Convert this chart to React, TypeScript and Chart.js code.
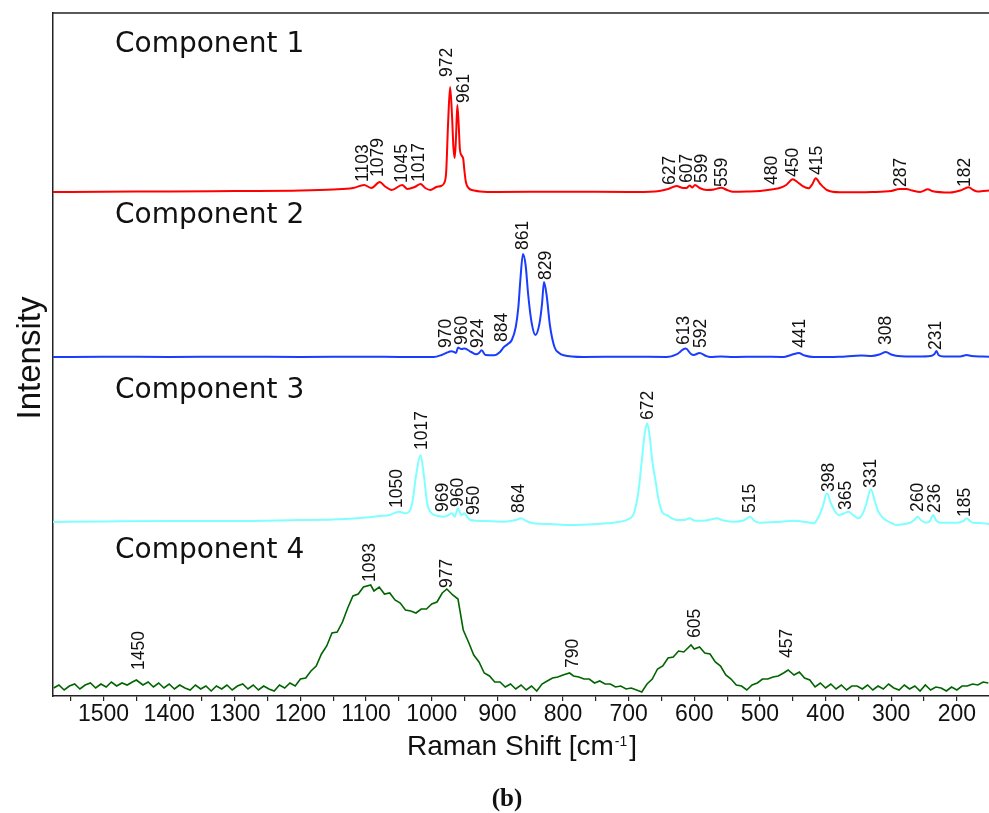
import { useEffect, useRef } from 'react';
import { Chart, registerables } from 'chart.js';

Chart.register(...registerables);

// Raman shift (cm-1) and intensity (a.u., above each trace's own baseline)
const SHIFT_C1 = [1577, 1500, 1400, 1300, 1200, 1150, 1120, 1103, 1092, 1079, 1072, 1061, 1045, 1037, 1026, 1017, 1010, 1002, 993, 986, 981, 978, 975, 972, 969, 967, 965, 963, 961, 959, 957, 954, 952, 950, 948, 944, 935, 926, 900, 800, 700, 660, 640, 627, 617, 612, 607, 603, 599, 592, 581, 570, 559, 550, 541, 520, 500, 480, 470, 460, 450, 443, 435, 426, 420, 415, 408, 398, 378, 330, 300, 287, 277, 268, 256, 244, 238, 210, 195, 182, 175, 168, 160, 151];
const INT_C1 = [0, 0.3, 0.5, 1, 1.5, 2.5, 4, 7, 4, 10, 6, 2, 7, 3, 5, 8, 4, 2, 5, 6, 9, 20, 70, 105, 75, 45, 34, 55, 87, 68, 42, 36, 33, 20, 10, 4, 1.5, 0.5, 0, 0.3, 0, 0.5, 3, 6, 4, 4, 6.5, 4.5, 7, 4, 2, 2.5, 4.3, 2, 0.3, 0.5, 1, 2.7, 4, 7, 12.7, 10, 6, 3.7, 8, 13.7, 8, 2, -0.3, 0, 1, 3, 3, 1.5, 0, 2.7, 1, -0.5, 1.5, 4.7, 2, 0.5, 1, 1.5];

const SHIFT_C2 = [1577, 1500, 1400, 1300, 1200, 1100, 1048, 997, 985, 978, 970, 966, 963, 960, 955, 950, 940, 932, 928, 924, 918, 905, 896, 890, 884, 878, 872, 868, 865, 861, 857, 853, 848, 842, 836, 832, 829, 825, 820, 813, 806, 799, 769, 700, 642, 627, 613, 605, 601, 592, 582, 576, 560, 540, 500, 464, 455, 448, 441, 432, 418, 380, 345, 330, 318, 308, 300, 290, 260, 240, 234, 231, 228, 220, 195, 185, 178, 160, 151];
const INT_C2 = [0, 0.3, 0, 0.3, 0, 0.3, 0, 0, 2, 4, 5.7, 5, 4, 9.5, 8, 8.5, 5, 2.7, 4, 6.7, 2, 1.7, 5, 10, 13, 17, 30, 50, 77, 103, 92, 62, 35, 22, 33, 53, 75, 62, 32, 10, 4, 1.7, 0, 0.3, 0, 2.7, 8.4, 3, 2, 4, 1, 0, 0.6, 0, 0.3, 0, 1.5, 3, 4, 1.5, 0, 0.3, 1.5, 1, 2.5, 5, 2.5, 1, 0.5, 1, 3, 6, 2, 0.5, 0.5, 2, 1, 0.5, 0.3];

const SHIFT_C3 = [1577, 1500, 1400, 1300, 1200, 1150, 1100, 1080, 1064, 1050, 1040, 1030, 1024, 1017, 1012, 1007, 1000, 990, 982, 976, 969, 965, 960, 955, 950, 946, 941, 920, 890, 872, 864, 856, 845, 820, 789, 750, 713, 700, 692, 685, 680, 676, 672, 668, 664, 659, 654, 648, 642, 635, 627, 615, 607, 600, 586, 575, 566, 555, 540, 525, 515, 508, 500, 475, 449, 430, 418, 410, 404, 398, 392, 386, 380, 372, 365, 358, 350, 343, 338, 331, 325, 320, 312, 300, 291, 280, 271, 265, 260, 254, 247, 241, 236, 232, 225, 200, 190, 185, 180, 175, 165, 151];
const INT_C3 = [-1, -0.5, 0, 0, 1, 1.5, 3.5, 5, 6, 9.3, 7.7, 17, 45, 66, 46, 18, 7.7, 5, 4.3, 5.5, 7.7, 4.3, 12.7, 6, 7.7, 4, 1, 0, -0.7, 1, 2.7, 0, -2.3, -3, -4, -3, -0.7, 2, 7.7, 30, 60, 85, 97.7, 85, 60, 40, 20, 8, 6, 3, 1, 1, 2.7, 0.5, 0.3, 1.5, 2.7, 0.5, -0.7, 0.5, 4.3, 0, -1.7, -1, 0.3, -1, -2.3, 5, 15, 27.7, 18, 10, 6, 7.5, 9.3, 6, 2.7, 8, 17, 31.7, 20, 10, 2.7, -2, -4, -3, -1.7, 1, 4.3, 0.5, -1.7, 0, 6, 1, -1.7, -1.7, 0, 2.7, 0, -1.7, -2, -3];

const SHIFT_C4 = [
  1576, 1568, 1560, 1552, 1544, 1536, 1528, 1520, 1512, 1504,
  1496, 1488, 1480, 1472, 1464, 1456, 1450, 1440, 1432, 1424,
  1416, 1408, 1400, 1392, 1384, 1376, 1368, 1360, 1352, 1344,
  1336, 1328, 1320, 1312, 1304, 1296, 1288, 1280, 1272, 1264,
  1256, 1248, 1240, 1232, 1224, 1216, 1208, 1200, 1192, 1184,
  1176, 1168, 1160, 1152, 1144, 1136, 1128, 1120, 1112, 1104,
  1093, 1088, 1080, 1072, 1064, 1056, 1048, 1040, 1032, 1024,
  1016, 1008, 1000, 992, 984, 977, 968, 960, 952, 944,
  936, 928, 920, 912, 904, 896, 888, 880, 872, 864,
  856, 848, 840, 832, 824, 816, 808, 800, 790, 784,
  776, 768, 760, 752, 744, 736, 728, 720, 712, 704,
  696, 688, 680, 672, 664, 656, 648, 640, 632, 624,
  616, 605, 600, 592, 584, 576, 568, 560, 552, 544,
  536, 528, 520, 512, 504, 496, 488, 480, 472, 464,
  457, 448, 440, 432, 424, 416, 408, 400, 392, 384,
  376, 368, 360, 352, 344, 336, 328, 320, 312, 304,
  296, 288, 280, 272, 264, 256, 248, 240, 232, 224,
  216, 208, 200, 192, 184, 176, 168, 160, 152,
];
const INT_C4 = [
  0, 3, -2, 2, 4, -1, 3, 5, 0, 4,
  1, 6, 2, 5, 3, 6, 8, 3, 6, 1,
  5, 0, 4, -1, 3, 0, -2, 3, -1, 2,
  -3, 2, -1, 3, -2, 2, 4, -1, 3, -2,
  2, -1, -3, 3, 0, 5, 2, 9, 10, 17,
  22, 34, 42, 55, 56, 66, 80, 92, 94, 101,
  103, 97, 101, 94, 95, 88, 85, 78, 77, 75,
  79, 79, 84, 86, 95, 99, 93, 89, 58, 46,
  33, 26, 15, 12, 6, 6, 1, 4, -1, 3,
  -2, 2, -3, 4, 7, 10, 11, 13, 15, 12,
  11, 9, 9, 5, 7, 4, 4, 1, 2, -1,
  0, -2, -4, 4, 9, 19, 22, 30, 31, 37,
  36, 43, 39, 41, 35, 34, 26, 22, 13, 9,
  3, 2, -2, 3, 5, 9, 9, 11, 12, 15,
  18, 13, 16, 10, 8, 1, 5, 0, 4, -1,
  3, -2, 2, 2, -1, 3, -2, 2, -1, 4,
  0, -2, 3, -1, 2, -3, 3, -2, 1, 0,
  -3, 1, -2, 2, 2, 4, 3, 6, 5,
];

// vertical stacking offsets of the four traces
const OFFSETS = [504, 339, 175, 8];
const NAMES = ['Component 1', 'Component 2', 'Component 3', 'Component 4'];
const NAME_Y = [52, 223, 398, 558];
const COLORS = ['#ff0000', '#1a3cff', '#80ffff', '#006400'];

// peak annotations: [text, label position (cm-1), label foot (a.u.)]
const PEAKS_C1: [string, number, number][] = [
  ['1103', 1105, 514], ['1079', 1082, 519], ['1045', 1045, 513], ['1017', 1019, 514],
  ['972', 976, 619], ['961', 950, 593], ['627', 636, 511], ['607', 611, 513],
  ['599', 588, 513], ['559', 558, 509], ['480', 482, 511], ['450', 449, 519],
  ['415', 413, 521], ['287', 285, 509], ['182', 187, 509],
];
const PEAKS_C2: [string, number, number][] = [
  ['970', 978, 348], ['960', 953, 351], ['924', 929, 348], ['884', 893, 354],
  ['861', 861, 446], ['829', 825, 416], ['613', 615, 351], ['592', 590, 348],
  ['441', 439, 348], ['308', 308, 351], ['231', 232, 346],
];
const PEAKS_C3: [string, number, number][] = [
  ['1050', 1053, 188], ['1017', 1014, 246], ['969', 982, 184], ['960', 959, 189],
  ['950', 936, 181], ['864', 867, 183], ['672', 671, 276], ['515', 515, 183],
  ['398', 395, 204], ['365', 368, 186], ['331', 330, 208], ['260', 259, 184],
  ['236', 233, 183], ['185', 188, 179],
];
const PEAKS_C4: [string, number, number][] = [
  ['1450', 1445, 26], ['1093', 1094, 114], ['977', 976, 108],
  ['790', 785, 28], ['605', 599, 58], ['457', 459, 38],
];

const SERIES = [
  [SHIFT_C1, INT_C1],
  [SHIFT_C2, INT_C2],
  [SHIFT_C3, INT_C3],
  [SHIFT_C4, INT_C4],
];
const PEAKS = [PEAKS_C1, PEAKS_C2, PEAKS_C3, PEAKS_C4];

const SANS = '"Liberation Sans", Arial, sans-serif';

const decorations = {
  id: 'decorations',
  afterDatasetsDraw(chart: any) {
    const { ctx, chartArea, scales } = chart;
    const xs = scales.x;
    const ys = scales.y;
    ctx.save();

    // upper frame line
    ctx.strokeStyle = '#222';
    ctx.lineWidth = 1.5;
    ctx.beginPath();
    ctx.moveTo(chartArea.left, chartArea.top);
    ctx.lineTo(chartArea.right, chartArea.top);
    ctx.stroke();

    // peak positions, written vertically
    ctx.fillStyle = '#111';
    ctx.font = `17.5px ${SANS}`;
    ctx.textAlign = 'left';
    ctx.textBaseline = 'middle';
    PEAKS.forEach((list) => {
      list.forEach(([t, s, v]) => {
        ctx.save();
        ctx.translate(xs.getPixelForValue(s), ys.getPixelForValue(v));
        ctx.rotate(-Math.PI / 2);
        ctx.fillText(t, 0, 0);
        ctx.restore();
      });
    });

    // component names
    ctx.font = '28px "DejaVu Sans", Verdana, sans-serif';
    ctx.textBaseline = 'alphabetic';
    NAMES.forEach((n, i) => ctx.fillText(n, 115, NAME_Y[i]));

    // y axis title
    ctx.save();
    ctx.font = `33px ${SANS}`;
    ctx.textAlign = 'center';
    ctx.textBaseline = 'alphabetic';
    ctx.translate(40, 358);
    ctx.rotate(-Math.PI / 2);
    ctx.fillText('Intensity', 0, 0);
    ctx.restore();

    // x axis title with superscript
    const main1 = 'Raman Shift [cm';
    const sup = '-1';
    const main2 = ']';
    ctx.textAlign = 'left';
    ctx.font = `28px ${SANS}`;
    const w1 = ctx.measureText(main1).width;
    const w3 = ctx.measureText(main2).width;
    ctx.font = `14px ${SANS}`;
    const w2 = ctx.measureText(sup).width + 3;
    const x0 = 522 - (w1 + w2 + w3) / 2;
    const base = 755;
    ctx.font = `28px ${SANS}`;
    ctx.fillText(main1, x0, base);
    ctx.font = `14px ${SANS}`;
    ctx.fillText(sup, x0 + w1 + 1, base - 9);
    ctx.font = `28px ${SANS}`;
    ctx.fillText(main2, x0 + w1 + w2, base);

    // panel tag
    ctx.font = 'bold 25px "Liberation Serif", "Times New Roman", serif';
    ctx.textAlign = 'center';
    ctx.fillText('(b)', 507, 806);

    ctx.restore();
  },
};

export default function App() {
  const ref = useRef<HTMLCanvasElement | null>(null);

  useEffect(() => {
    const canvas = ref.current;
    if (!canvas) return;
    const datasets = SERIES.map(([sh, it], k) => ({
      label: NAMES[k],
      data: sh.map((s, i) => ({ x: s, y: it[i] + OFFSETS[k] })),
      borderColor: COLORS[k],
      borderWidth: k === 3 ? 1.6 : 2,
      pointRadius: 0,
      fill: false,
      tension: 0,
      cubicInterpolationMode: k === 3 ? 'default' : 'monotone',
    }));

    const chart = new Chart(canvas, {
      type: 'line',
      data: { datasets } as any,
      options: {
        animation: false,
        responsive: false,
        devicePixelRatio: 1,
        layout: { padding: { top: 13, left: 0, right: 0, bottom: 0 } },
        plugins: { legend: { display: false }, tooltip: { enabled: false } },
        scales: {
          x: {
            type: 'linear',
            reverse: true,
            min: 151,
            max: 1577,
            afterFit: (s: any) => { s.height = 117; },
            ticks: {
              stepSize: 50,
              includeBounds: false,
              autoSkip: false,
              maxRotation: 0,
              padding: 0,
              color: '#111',
              font: { family: SANS, size: 23 },
              callback: (v: any) => (Number(v) % 100 === 0 ? String(v) : ''),
            },
            grid: { display: true, drawOnChartArea: false, drawTicks: true, tickLength: 5, color: '#222', lineWidth: 1.2 },
            border: { display: true, color: '#222', width: 1.5 },
          },
          y: {
            min: 0,
            max: 683,
            afterFit: (s: any) => { s.width = 53; },
            ticks: { display: false },
            grid: { display: false },
            border: { display: true, color: '#222', width: 1.5 },
          },
        },
      } as any,
      plugins: [decorations],
    });
    return () => chart.destroy();
  }, []);

  return (
    <canvas
      ref={ref}
      width={989}
      height={813}
      style={{ position: 'absolute', left: 0, top: 0, width: 989, height: 813 }}
    />
  );
}
